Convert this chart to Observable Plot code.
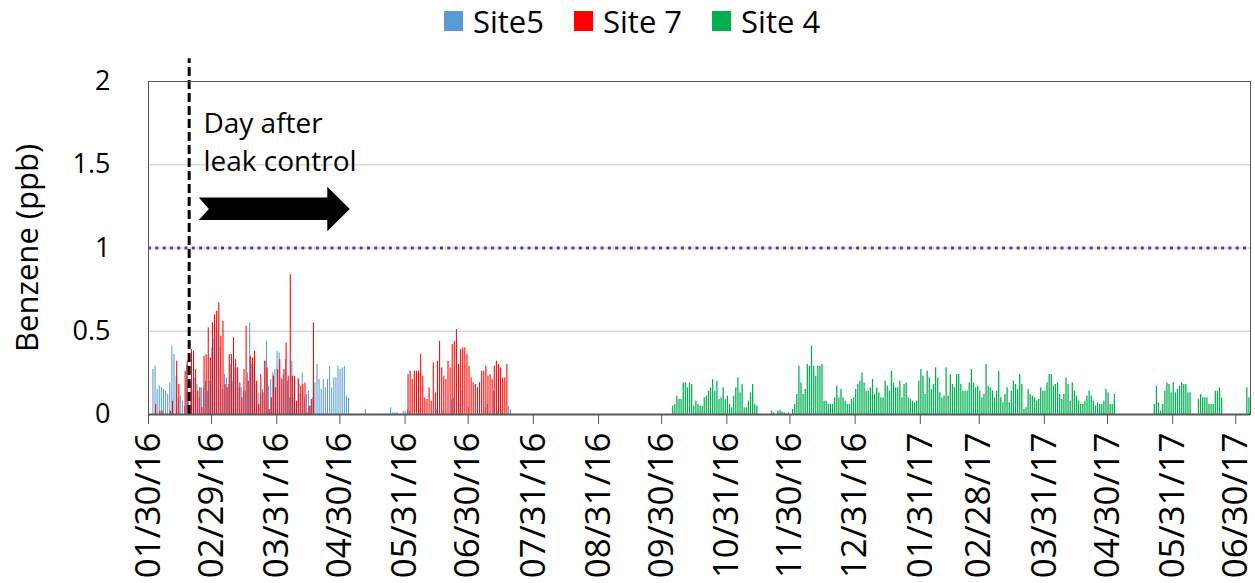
<!DOCTYPE html>
<html><head><meta charset="utf-8">
<script src="https://cdn.jsdelivr.net/npm/d3@7"></script>
<script src="https://cdn.jsdelivr.net/npm/@observablehq/plot@0.6"></script>
<style>
body{margin:0;background:#fff;font-family:"Open Sans", sans-serif;}
#wrap{position:relative;width:1255px;height:583px;}
#legend{position:absolute;top:0;left:444px;height:41px;display:flex;align-items:center;font-size:31px;color:#000;}
.item{display:flex;align-items:center;margin-right:30px;}
.sw{width:19px;height:20px;margin-right:10px;}
</style></head><body><div id="wrap"><div id="legend"></div></div>
<script>
// ---------- data ----------
const seriesNames = ["Site5", "Site 7", "Site 4"];
const seriesColors = ["#5B9BD5", "#FF0000", "#00B050"];

const site5FebStart = "2016-02-01";
const site5Feb = [.27,.29,.15,.17,.16,.15,.14,.12,.19,.41,.36,.23,.10,.11,.08,.05,.30,.10,.20,.15,
  .22,.18,.10,.16,.16,.20,.14,.20,.40,.45,.52,.50,.40,.15,.24,.22,.18,.30,.20,.28,
  .28,.16,.16,.14,.14,.25,.55,.30,.30,.18,.13,.12,.15,.32,.44,.17,.21,.25,.27,.38,
  .37,.22,.24,.33,.20,.10,.32,.10,.05,.22,.12,.25,.10,.12,.14,.05,.10,.19,.30,.21,
  .15,.21,.16,.21,.29,.16,.22,.22,.29,.27,.28,.29,.11,.10];
const site5MayStart = "2016-05-12";
const site5May = [.03,null,null,null,null,null,null,null,null,null,null,null,.04,.01,.01,.01,null,null,.02,.02,
  .03,.02,null,null,null,null,.03,null,null,null,null,null,null,null,.03,null,null,.02,null,null,
  null,.09,.10,null,null,.06,.14,null,null,.04,null,null,null,null,null,null,null,.04,.06,null,
  null,.14,null,.02,null,.02,null,null,.05,.03];

const site7FebStart = "2016-02-02";
const site7Feb = [.06,null,.02,.02,null,null,null,.02,.08,null,.32,.18,null,null,.26,.32,null,.39,.38,.27,
  .14,.16,.04,.35,.36,.52,.34,.55,.60,.62,.67,.47,.56,.18,.16,.36,.36,.46,.33,.28,
  .19,.10,.27,.53,.20,.35,.34,.38,.20,.06,.24,.13,.32,.28,.03,.10,.23,.16,.27,.33,
  .21,.27,.43,.23,.84,.23,.23,.08,.21,.17,.18,.19,.01,.05,.09,.55];
const site7JunStart = "2016-06-01";
const site7Jun = [.24,.26,.21,.26,.26,.26,.36,.23,.10,.09,.16,.08,.31,.13,.32,.44,.28,.23,.21,.32,
  .28,.42,.44,.51,.30,.39,.40,.40,.36,.29,.22,.19,.18,.16,.19,.26,.26,.29,.23,.24,
  .21,.29,.32,.30,.28,.22,.22,.30];

const site4OctStart = "2016-10-05";
const site4Oct = [.05,.06,.11,.09,.09,.19,.19,.16,.19,.18,.05,.08,.06,.05,.05,.10,.11,.14,.16,.21,
  .14,.20,.09,.10,.16,.09,.11,.06,.04,.11,.16,.22,.13,.18,.04,.04,.08,.13,.18,.06,.05];
const site4NovStart = "2016-11-21";
const site4Nov = [.02,.01,null,.02,.025,.015,.01,null,.01];
const site4DecStart = "2016-12-01";
const site4Dec = [.03,.06,.12,.29,.19,.12,.15,.30,.29,.41,.29,.23,.29,.29,.30,.08,.08,.06,.06,.06,
  .10,.17,.10,.15,.10,.08,.06,.06,.09,.10,.15,.18,.20,.25,.19,.14,.14,.16,.21,.12,
  .16,.13,.10,.10,.20,.17,.14,.26,.19,.16,.16,.20,.10,.18,.19,
  .10,.09,.08,.07,.08,.20,.27,.23,.12,.26,.22,.15,.18,.28,.22,.13,.10,.11,.28,.11,
  .24,.18,.16,.24,.24,.18,.14,.14,.14,.19,.27,.19,.16,.17,.14,.10,.12,.30,.17,.16,
  .14,.10,.14,.26,.10,.07,.12,.16,.07,.14,.20,.18,.15,.24,.18,.03,.04,.15,.12,.11,
  .10,.08,.09,.16,.14,.14,.19,.24,.24,.17,.18,.19,.12,
  .09,.12,.22,.18,.08,.19,.14,.11,.08,.06,.06,.08,.11,.14,.11,.08,.05,.07,.06,.06,
  .08,.15,.13,.06,.06,.12];
const site4MayStart = "2017-05-22";
const site4May = [.06,.17,.07,.02,.06,.14,.19,.18,.13,.19,.13,.15,.17,.19,.18,.18,.13,.13];
const site4JunStart = "2017-06-12";
const site4Jun = [.09,.12,.10,.10,.10,.06,.06,.06,.14,.14,.16,.10];
const site4JulStart = "2017-07-05";
const site4Jul = [.16,.10];

const xStart = "2016-01-30";
const xEnd = "2017-07-07";
const tickDates = ["2016-01-30","2016-02-29","2016-03-31","2016-04-30","2016-05-31","2016-06-30",
  "2016-07-31","2016-08-31","2016-09-30","2016-10-31","2016-11-30","2016-12-31","2017-01-31",
  "2017-02-28","2017-03-31","2017-04-30","2017-05-31","2017-06-30"];
const tickLabels = ["01/30/16","02/29/16","03/31/16","04/30/16","05/31/16","06/30/16","07/31/16",
  "08/31/16","09/30/16","10/31/16","11/30/16","12/31/16","01/31/17","02/28/17","03/31/17",
  "04/30/17","05/31/17","06/30/17"];
const yTicks = [0, 0.5, 1, 1.5, 2];
const yTickLabels = ["0", "0.5", "1", "1.5", "2"];
const yLabel = "Benzene (ppb)";
const threshold = 1;
const leakDate = "2016-02-18T08:00Z";
const annotationLines = ["Day after", "leak control"];
const annotationX = "2016-02-25T03:00Z";
const annotationY = [1.747, 1.518];
// block arrow outline (date, ppb)
const arrowX = ["2016-02-22T22:00Z","2016-04-24T00:00Z","2016-04-24T00:00Z","2016-05-04T17:00Z","2016-04-24T00:00Z","2016-04-24T00:00Z","2016-02-22T22:00Z","2016-02-27T17:00Z"];
const arrowY = [1.304, 1.304, 1.368, 1.234, 1.10, 1.168, 1.168, 1.234];

// ---------- build ----------
const DAY = 864e5;
const rows = [];
const barSpan = {"Site5": [0.1, 0.6], "Site 7": [0.4, 0.9], "Site 4": [0.2, 0.8]};
function addRun(series, start, values) {
  const s = +new Date(start);
  const [f1, f2] = barSpan[series];
  values.forEach((v, i) => {
    if (v == null) return;
    const t = s + i * DAY;
    rows.push({series, x1: new Date(t + f1 * DAY), x2: new Date(t + f2 * DAY), value: v});
  });
}
addRun("Site5", site5FebStart, site5Feb);
addRun("Site5", site5MayStart, site5May);
addRun("Site 7", site7FebStart, site7Feb);
addRun("Site 7", site7JunStart, site7Jun);
addRun("Site 4", site4OctStart, site4Oct);
addRun("Site 4", site4NovStart, site4Nov);
addRun("Site 4", site4DecStart, site4Dec);
addRun("Site 4", site4MayStart, site4May);
addRun("Site 4", site4JunStart, site4Jun);
addRun("Site 4", site4JulStart, site4Jul);

const labelByTime = new Map(tickDates.map((d, i) => [+new Date(d), tickLabels[i]]));
const yLabelByValue = new Map(yTicks.map((v, i) => [v, yTickLabels[i]]));
const arrow = arrowX.map((x, i) => ({x: new Date(x), y: arrowY[i]}));
const annot = annotationLines.map((t, i) => ({x: new Date(annotationX), y: annotationY[i], text: t}));

const chart = Plot.plot({
  width: 1255, height: 583,
  marginLeft: 148, marginRight: 5, marginTop: 81, marginBottom: 169,
  style: {fontFamily: "'Open Sans', sans-serif", fontSize: "27px", color: "#000", background: "#fff", overflow: "visible"},
  x: {type: "utc", domain: [new Date(xStart), new Date(xEnd)]},
  y: {domain: [0, 2]},
  color: {domain: seriesNames, range: seriesColors},
  marks: [
    Plot.ruleY(yTicks.filter(v => v > 0 && v < 2), {stroke: "#d9d9d9", strokeWidth: 1.3}),
    Plot.rectY(rows, {x1: "x1", x2: "x2", y: "value", fill: "series"}),
    Plot.ruleY([threshold], {stroke: "#7030A0", strokeWidth: 3, strokeDasharray: "3 4.3"}),
    Plot.ruleX([new Date(leakDate)], {y1: 0, y2: 2.136, stroke: "#000", strokeWidth: 3, strokeDasharray: "9 4"}),
    Plot.line(arrow, {x: "x", y: "y", fill: "#000", stroke: "none"}),
    Plot.text(annot, {x: "x", y: "y", text: "text", textAnchor: "start", fontSize: 28, fill: "#000"}),
    Plot.frame({stroke: "#595959"}),
    Plot.ruleY([0], {stroke: "#595959", strokeWidth: 2}),
    Plot.axisX({ticks: tickDates.map(d => new Date(d)), tickFormat: d => labelByTime.get(+d), tickRotate: -90,
      tickSize: 10, tickPadding: 8, fontSize: 35, label: null, stroke: "#595959", fill: "#000"}),
    Plot.axisY({ticks: yTicks, tickFormat: v => yLabelByValue.get(v), tickSize: 0, tickPadding: 38,
      fontSize: 27, label: null, fill: "#000"}),
    Plot.text([yLabel], {frameAnchor: "left", dx: -120, rotate: -90, textAnchor: "middle", lineAnchor: "middle",
      fontSize: 31, fill: "#000"})
  ]
});
document.getElementById("wrap").prepend(chart);

const legend = document.getElementById("legend");
seriesNames.forEach((name, i) => {
  const item = document.createElement("div");
  item.className = "item";
  item.innerHTML = `<div class="sw" style="background:${seriesColors[i]}"></div><span>${name}</span>`;
  legend.appendChild(item);
});
</script></body></html>
